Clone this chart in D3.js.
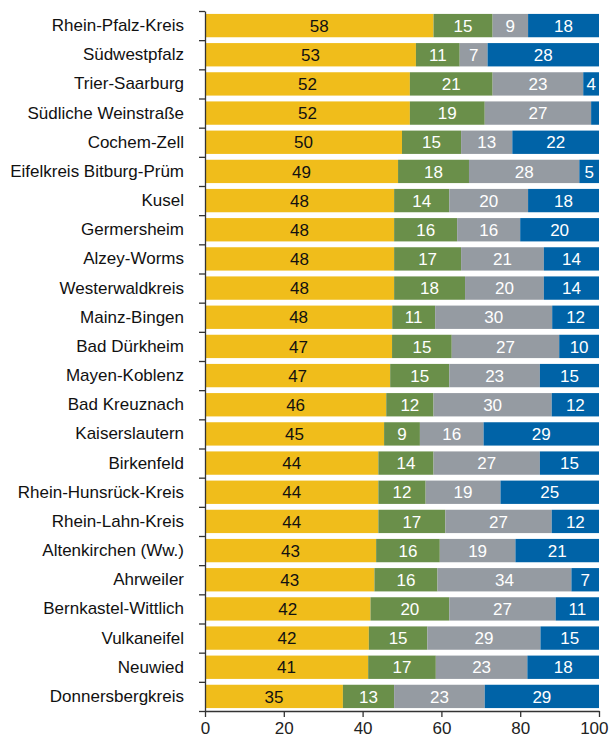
<!DOCTYPE html>
<html>
<head>
<meta charset="utf-8">
<script src="https://cdn.jsdelivr.net/npm/d3@7"></script>
<style>
  html, body { margin: 0; padding: 0; background: #fff; }
  svg { display: block; font-family: "Liberation Sans", Arial, sans-serif; }
</style>
</head>
<body>
<svg id="chart" width="610" height="740"></svg>
<script>
// Districts, top to bottom
const districts = [
  "Rhein-Pfalz-Kreis", "Südwestpfalz", "Trier-Saarburg", "Südliche Weinstraße",
  "Cochem-Zell", "Eifelkreis Bitburg-Prüm", "Kusel", "Germersheim",
  "Alzey-Worms", "Westerwaldkreis", "Mainz-Bingen", "Bad Dürkheim",
  "Mayen-Koblenz", "Bad Kreuznach", "Kaiserslautern", "Birkenfeld",
  "Rhein-Hunsrück-Kreis", "Rhein-Lahn-Kreis", "Altenkirchen (Ww.)", "Ahrweiler",
  "Bernkastel-Wittlich", "Vulkaneifel", "Neuwied", "Donnersbergkreis"
];

// Shares per district (percent), one array per segment
const seriesA = [58, 53, 52, 52, 50, 49, 48, 48, 48, 48, 48, 47, 47, 46, 45, 44, 44, 44, 43, 43, 42, 42, 41, 35];
const seriesB = [15, 11, 21, 19, 15, 18, 14, 16, 17, 18, 11, 15, 15, 12, 9, 14, 12, 17, 16, 16, 20, 15, 17, 13];
const seriesC = [9, 7, 23, 27, 13, 28, 20, 16, 21, 20, 30, 27, 23, 30, 16, 27, 19, 27, 19, 34, 27, 29, 23, 23];
const seriesD = [18, 28, 4, 2, 22, 5, 18, 20, 14, 14, 12, 10, 15, 12, 29, 15, 25, 12, 21, 7, 11, 15, 18, 29];

const xTicks = [0, 20, 40, 60, 80, 100];

const keys = ["a", "b", "c", "d"];
const colors = { a: "#F0BD1B", b: "#6A8F4A", c: "#959BA2", d: "#0063A7" };
const textColors = { a: "#111", b: "#fff", c: "#fff", d: "#fff" };
const minLabel = 3;

const rows = districts.map((name, i) => ({
  name, a: seriesA[i], b: seriesB[i], c: seriesC[i], d: seriesD[i]
}));

const svg = d3.select("#chart");
const margin = { top: 11, right: 11, bottom: 29, left: 205 };
const width = 610 - margin.left - margin.right;
const height = 740 - margin.top - margin.bottom;

const g = svg.append("g").attr("transform", `translate(${margin.left},${margin.top})`);

const x = d3.scaleLinear().domain([0, 100]).range([0, width]);
const y = d3.scaleBand().domain(districts).range([0, height]).paddingInner(0.2).paddingOuter(0.1);

// 100% stacked layout
const stack = d3.stack().keys(keys).offset(d3.stackOffsetExpand);
const layers = stack(rows);

const layer = g.selectAll("g.layer")
  .data(layers)
  .join("g")
  .attr("class", "layer")
  .attr("fill", d => colors[d.key]);

layer.selectAll("rect")
  .data(d => d.map(p => ({ p, key: d.key })))
  .join("rect")
  .attr("x", d => x(d.p[0] * 100))
  .attr("y", d => y(d.p.data.name))
  .attr("width", d => x(d.p[1] * 100) - x(d.p[0] * 100))
  .attr("height", y.bandwidth());

layer.selectAll("text")
  .data(d => d.map(p => ({ p, key: d.key })).filter(d => d.p.data[d.key] >= minLabel))
  .join("text")
  .attr("x", d => (x(d.p[0] * 100) + x(d.p[1] * 100)) / 2)
  .attr("y", d => y(d.p.data.name) + y.bandwidth() / 2)
  .attr("dy", "0.36em")
  .attr("text-anchor", "middle")
  .attr("fill", d => textColors[d.key])
  .style("font-size", "17px")
  .text(d => d.p.data[d.key]);

// Category labels
const yAxis = g.append("g")
  .call(d3.axisLeft(y).tickSize(0).tickPadding(21));
yAxis.select(".domain").remove();
yAxis.selectAll("text")
  .style("font-size", "17px")
  .style("font-family", "'Liberation Sans', Arial, sans-serif")
  .attr("fill", "#111");

// Vertical axis line with ticks between categories
const yEdges = d3.scaleLinear().domain([0, districts.length]).range([0, height]);
const yTicks = g.append("g")
  .call(d3.axisLeft(yEdges).tickValues(d3.range(0, districts.length + 1)).tickSize(6).tickSizeOuter(0).tickFormat(""));
yTicks.selectAll("line, path").attr("stroke", "#333").attr("stroke-width", 1.3);

// Horizontal axis
const xAxis = g.append("g")
  .attr("transform", `translate(0,${height})`)
  .call(d3.axisBottom(x).tickValues(xTicks).tickSize(6).tickSizeOuter(0).tickPadding(5));
xAxis.selectAll("line, path").attr("stroke", "#333").attr("stroke-width", 1.3);
xAxis.selectAll("text")
  .style("font-size", "17px")
  .style("font-family", "'Liberation Sans', Arial, sans-serif")
  .attr("fill", "#222");
// keep the last tick label inside the canvas
xAxis.selectAll(".tick").filter(d => d === 100).select("text")
  .attr("text-anchor", "end")
  .attr("x", 9);
</script>
</body>
</html>
